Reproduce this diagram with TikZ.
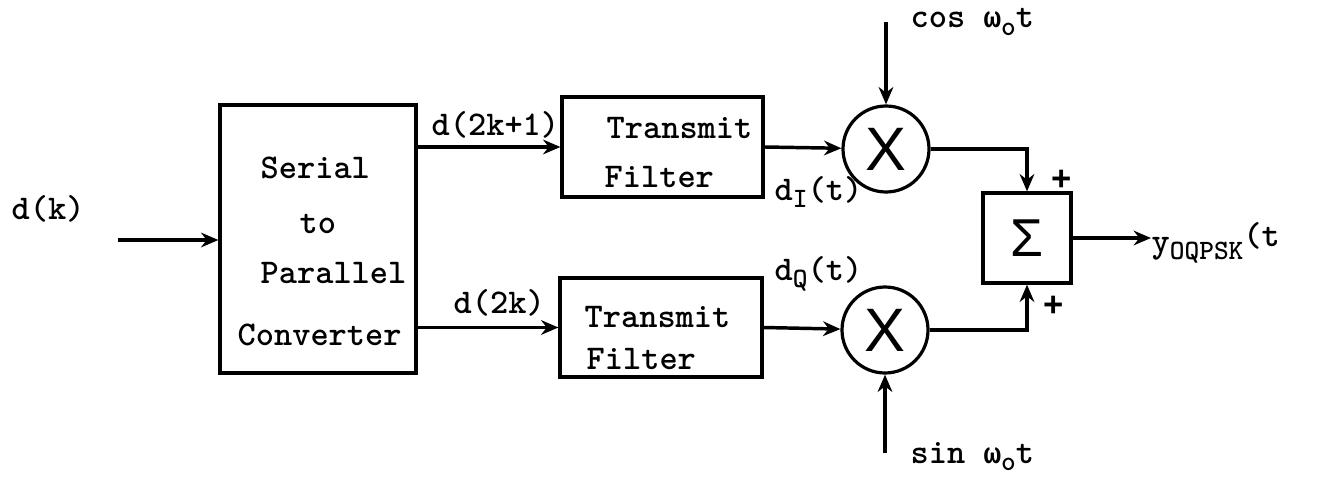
\documentclass[tikz,border=0pt]{standalone}
\usepackage{fontspec}
\newfontfamily\sansfam{Liberation Sans}
\newfontfamily\grk{Liberation Mono}
\usetikzlibrary{arrows.meta}
\newcommand\lsub[1]{\raisebox{-0.5ex}{\fontsize{21}{21}\selectfont #1}}
\newcommand\hsup[1]{\raisebox{0.35ex}{#1}}
\begin{document}
\begin{tikzpicture}[x=0.75pt,y=-0.75pt,
  line width=2.6pt,
  font=\ttfamily\bfseries\fontsize{26}{30}\selectfont,
  blockbox/.style={draw,line width=2.4pt,inner sep=0pt},
  mixer/.style={draw,circle,line width=2.4pt,inner sep=0pt,minimum size=64.5pt,
     font=\sansfam\fontsize{46}{46}\selectfont},
  lbl/.style={anchor=base west,inner sep=0pt},
  arr/.style={-{Stealth[length=13pt,width=11pt]},line width=2.6pt}]
\useasboundingbox (0,0) rectangle (1324,492);

% blocks
\node[blockbox,minimum width=147pt,minimum height=201pt] (sp) at (318,239) {};
\node[blockbox,minimum width=150.75pt,minimum height=75pt] (t1) at (662.5,147) {};
\node[blockbox,minimum width=151.5pt,minimum height=74.25pt] (t2) at (661,327.5) {};
\node[blockbox,minimum width=66pt,minimum height=67.5pt,
      font=\sansfam\fontsize{40}{40}\selectfont] (sum) at (1027,238) {Σ};
\node[mixer] (c1) at (886,149) {X};
\node[mixer] (c2) at (885,330) {X};

% block texts
\node[lbl] (sp1) at (259,178) {Serial};
\node[lbl] (sp2) at (298,233) {to};
\node[lbl] (sp3) at (259,283) {Parallel};
\node[lbl] (sp4) at (236,345) {Converter};
\node[lbl] (t1a) at (605,138) {Transmit};
\node[lbl] (t1b) at (603,187) {Filter};
\node[lbl] (t2a) at (583,327) {Transmit};
\node[lbl] (t2b) at (585,369) {Filter};

% free ends
\coordinate (in) at (118,240);
\coordinate (cosin) at (886,22);
\coordinate (sinin) at (885,453);
\coordinate (out) at (1151,238);

% connectors
\draw[arr] (in) -- (sp.west |- in);
\draw[arr] (sp.east |- t1.west) -- (t1.west);
\draw[arr] (sp.east |- t2.west) -- (t2.west);
\draw[arr] (t1.east) -- (c1);
\draw[arr] (t2.east) -- (c2);
\draw[arr] (cosin) -- (c1);
\draw[arr] (sinin) -- (c2);
\draw[arr] (c1.east) -| (sum.north);
\draw[arr] (c2.east) -| (sum.south);
\draw[arr] (sum.east) -- (out);

% labels
\node[lbl] (ldk) at (10,219) {d(k)};
\node[lbl] (ld1) at (430,135) {d(2k+1)};
\node[lbl] (ld0) at (452,313) {d(2k)};
\node[lbl] (ldi) at (773,200) {d\lsub{I}(t)};
\node[lbl] (ldq) at (773,280) {d\lsub{Q}(t)};
\node[lbl] (lcos) at (909,28) {cos {\grk\fontsize{22}{22}\selectfont ω}\lsub{o}t};
\node[lbl] (lsin) at (909,463) {sin {\grk\fontsize{22}{22}\selectfont ω}\lsub{o}t};
\node[lbl] (lout) at (1150,252) {y\lsub{OQPSK}\hsup{(t}};
\node[lbl,font=\sansfam\bfseries\fontsize{26}{26}\selectfont] (pl1) at (1050,190) {+};
\node[lbl,font=\sansfam\bfseries\fontsize{26}{26}\selectfont] (pl2) at (1042,316) {+};
\end{tikzpicture}
\end{document}
